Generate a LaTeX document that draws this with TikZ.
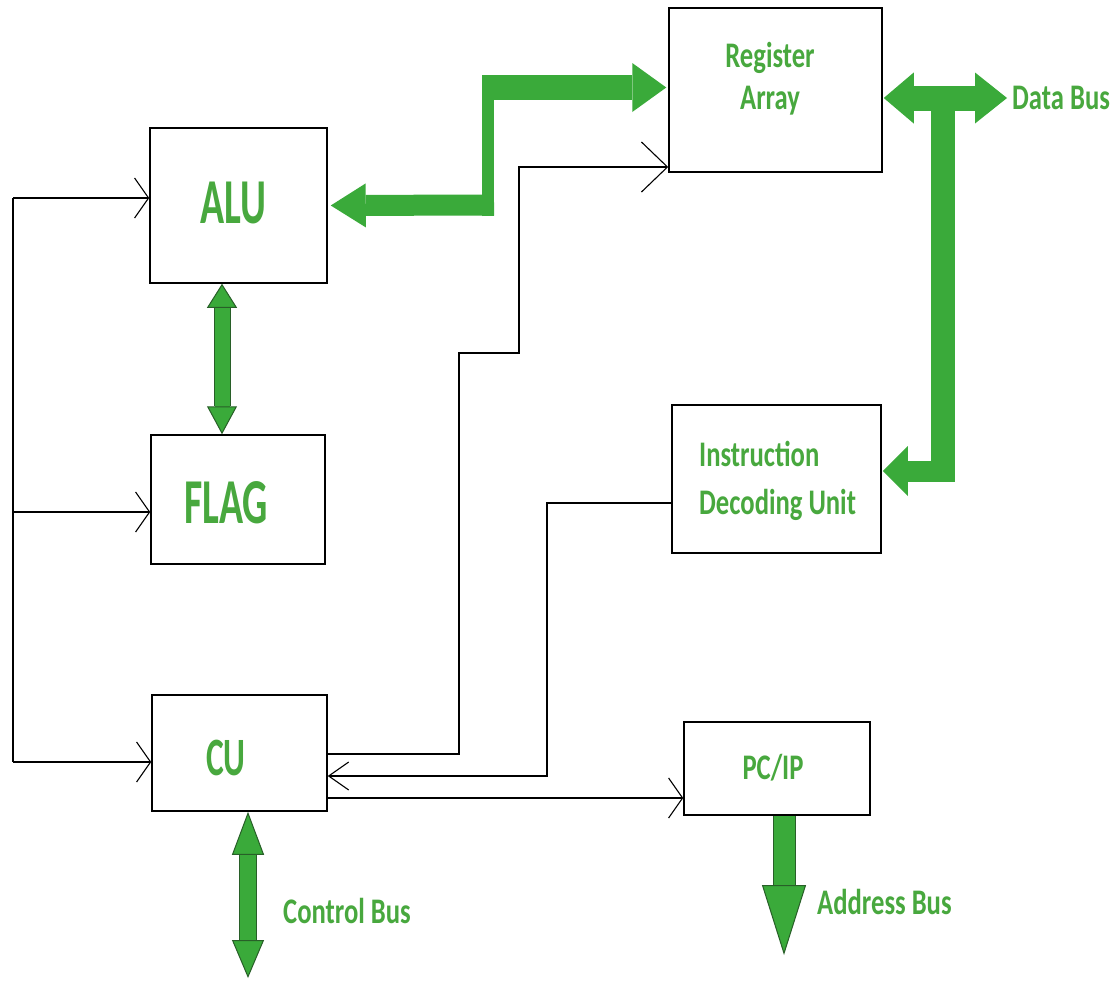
\documentclass[tikz,border=0pt]{standalone}
\usepackage{fontspec}
\usetikzlibrary{arrows.meta}
\newfontfamily\lblA{Carlito}[FakeStretch=0.62,BoldFeatures={FakeStretch=0.62}]
\newfontfamily\lblB{Carlito}[FakeStretch=0.74,BoldFeatures={FakeStretch=0.74}]
\definecolor{bg}{RGB}{58,170,58}
\definecolor{bd}{RGB}{40,95,40}
\definecolor{tg}{RGB}{72,168,62}
\tikzset{
  box/.style={draw=black, line width=1.5pt, rectangle, inner sep=0pt},
  bigtxt/.style={text=tg, font=\lblA\bfseries\fontsize{64}{64}\selectfont, inner sep=0pt, anchor=base},
  smalltxt/.style={text=tg, font=\lblB\bfseries\fontsize{36}{42}\selectfont, inner sep=0pt, anchor=base},
  conn/.style={draw=black, line width=1.5pt},
  barb/.style={-{Straight Barb[length=14pt,width=40pt,line width=1.1pt]}},
}
\begin{document}
\begin{tikzpicture}[x=1pt,y=-1pt]
\useasboundingbox (0,0) rectangle (1118,980);
\fill[white] (0,0) rectangle (1118,980);

% boxes
\node[box, minimum width=177pt, minimum height=155pt] (alu)  at (238.5,205.5) {};
\node[box, minimum width=174pt, minimum height=129pt] (flag) at (238,499.5) {};
\node[box, minimum width=175pt, minimum height=116pt] (cu)   at (239.5,753) {};
\node[box, minimum width=213pt, minimum height=164pt] (reg)  at (775.5,90) {};
\node[box, minimum width=209pt, minimum height=148pt] (idu)  at (776.5,479) {};
\node[box, minimum width=186pt, minimum height=93pt]  (pcip) at (777,768.5) {};

% texts
\node[bigtxt] (alut) at (233,223) {ALU};
\node[bigtxt] (flagt) at (226,523) {FLAG};
\node[bigtxt, font=\lblA\bfseries\fontsize{54}{54}\selectfont] (cut) at (226,775) {CU};
\node[smalltxt] (regt1) at (770,67) {Register};
\node[smalltxt] (regt2) at (770,109) {Array};
\node[smalltxt, anchor=base west] (idut1) at (699,466) {Instruction};
\node[smalltxt, anchor=base west] (idut2) at (699,514) {Decoding Unit};
\node[smalltxt] (pct) at (773,779) {PC/IP};
\node[smalltxt, anchor=base west] (dbt) at (1012,109) {Data Bus};
\node[smalltxt, anchor=base west] (cbt) at (283,923) {Control Bus};
\node[smalltxt, anchor=base west] (abt) at (817,914) {Address Bus};

% black connectors
\coordinate (lt) at (13,198);
\coordinate (lf) at (13,512);
\coordinate (lb) at (13,762);
\draw[conn] (lt) -- (lb);
\draw[conn, barb] (lt) -- (alu.west |- lt);
\draw[conn, barb] (lf) -- (flag.west |- lf);
\draw[conn, barb] (lb) -- (cu.west |- lb);

\coordinate (c1) at (459,754);
\coordinate (c2) at (459,353);
\coordinate (c3) at (519,353);
\coordinate (c4) at (519,167);
\draw[conn, -{Straight Barb[length=26pt,width=50pt,line width=1.1pt]}]
  (cu.east |- c1) -- (c1) -- (c2) -- (c3) -- (c4) -- (reg.west |- c4);

\coordinate (d1) at (547,503);
\coordinate (d2) at (547,776);
\draw[conn, -{Straight Barb[length=20pt,width=28pt,line width=1.1pt]}]
  (idu.west |- d1) -- (d1) -- (d2) -- (cu.east |- d2);

\coordinate (e1) at (400,798);
\draw[conn, barb] (cu.east |- e1) -- (pcip.west |- e1);

% green bus: ALU <-> Register Array
\coordinate (a1) at (494,205);
\coordinate (a2) at (488,216);
\coordinate (a3) at (488,75);
\coordinate (a4) at (482,87.5);
\draw[bg, line width=21pt, {Triangle[length=35pt,width=44pt,line width=0pt]}-]
  ([xshift=3pt]alu.east) -- (a1);
\draw[bg, line width=12pt] (a2) -- (a3);
\draw[bg, line width=25pt, -{Triangle[length=34pt,width=49pt,line width=0pt]}]
  (a4) -- ([yshift=2.5pt,xshift=-2pt]reg.west);

% green bus: Data Bus
\coordinate (db) at (1007,98);
\coordinate (v1) at (942.5,98);
\coordinate (v2) at (942.5,481);
\coordinate (v3) at (954.5,471);
\draw[bg, line width=24pt] (v1) -- (v2);
\draw[bg, line width=25pt, {Triangle[length=30pt,width=51pt,line width=0pt]}-{Triangle[length=32pt,width=51pt,line width=0pt]}]
  ([yshift=-8pt,xshift=1pt]reg.east) -- (db);
\draw[bg, line width=21pt, -{Triangle[length=25pt,width=50pt,line width=0pt]}]
  (v3) -- ([yshift=8pt,xshift=1pt]idu.east);

% green bus: ALU <-> FLAG (outlined)
\draw[bd, line width=17pt, shorten <=24pt, shorten >=28pt]
  ([xshift=-16.5pt]alu.south) -- ([xshift=-16pt]flag.north);
\draw[bg, line width=15pt,
  {Triangle[length=24pt,width=30pt,line width=1pt,color=bd,fill=bg]}-{Triangle[length=28pt,width=30pt,line width=1pt,color=bd,fill=bg]}]
  ([xshift=-16.5pt]alu.south) -- ([xshift=-16pt]flag.north);

% green bus: Control Bus (outlined)
\coordinate (cb) at (248,978);
\draw[bd, line width=18pt, shorten <=43pt, shorten >=38pt]
  ([xshift=8.5pt]cu.south) -- (cb);
\draw[bg, line width=16pt,
  {Triangle[length=43pt,width=32pt,line width=1pt,color=bd,fill=bg]}-{Triangle[length=38pt,width=32pt,line width=1pt,color=bd,fill=bg]}]
  ([xshift=8.5pt]cu.south) -- (cb);

% green bus: Address Bus (outlined)
\coordinate (ab) at (784,955);
\draw[bd, line width=23pt, shorten >=70pt]
  ([xshift=7pt]pcip.south) -- (ab);
\draw[bg, line width=21pt,
  -{Triangle[length=70pt,width=44pt,line width=1pt,color=bd,fill=bg]}]
  ([xshift=7pt]pcip.south) -- (ab);
\end{tikzpicture}
\end{document}
